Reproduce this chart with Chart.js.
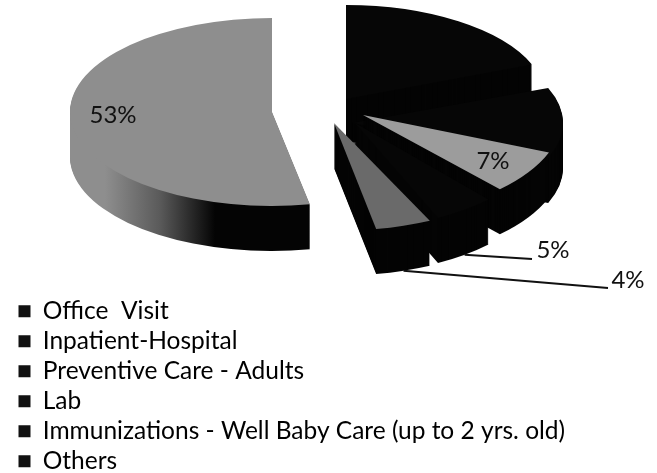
<!DOCTYPE html>
<html>
<head>
<meta charset="utf-8">
<title>Pie</title>
<script src="https://cdn.jsdelivr.net/npm/chart.js@4"></script>
<style>
  html, body { margin: 0; background: #fff; }
  canvas { display: block; }
</style>
</head>
<body>
<canvas id="pie" width="657" height="473"></canvas>
<script>
const categories = ['Office  Visit', 'Inpatient-Hospital', 'Preventive Care - Adults', 'Lab', 'Immunizations - Well Baby Care (up to 2 yrs. old)', 'Others'];
const shares = [53, 19, 12, 7, 5, 4];
const shownLabels = ['53%', null, null, '7%', '5%', '4%'];
const topColors = ['#8e8e8e', '#060606', '#060606', '#9c9c9c', '#060606', '#6a6a6a'];

// where each exploded slice sits on the page (the scan has a tilted perspective)
const slicePlace = [
  { x: 272, y: 112, rx: 202, ry: 94 },
  { x: 346, y: 99, rx: 200, ry: 94 },
  { x: 352, y: 123, rx: 211, ry: 95 },
  { x: 363, y: 115, rx: 200, ry: 102 },
  { x: 355, y: 123, rx: 195, ry: 105 },
  { x: 334, y: 123, rx: 225, ry: 108 }
];
const labelPlace = [
  { x: 113, y: 115 },
  null,
  null,
  { x: 493, y: 161 },
  { x: 553, y: 250, leadTo: 532, leadY: 259 },
  { x: 628, y: 280, leadTo: 608, leadY: 288 }
];
const DEPTH = 45;

function slicePath(ctx, arc, place, shift) {
  const r = arc.outerRadius;
  ctx.save();
  ctx.translate(place.x, place.y + shift);
  ctx.scale(place.rx / r, place.ry / r);
  ctx.beginPath();
  ctx.moveTo(0, 0);
  ctx.arc(0, 0, r, arc.startAngle, arc.endAngle);
  ctx.closePath();
  ctx.restore();
}

const tiltedPie = {
  id: 'tiltedPie',
  beforeDatasetDraw(chart) {
    const ctx = chart.ctx;
    const arcs = chart.getDatasetMeta(0).data;

    arcs.forEach((arc, i) => {
      const place = slicePlace[i];

      // side wall, stacked from the bottom up
      let wall = '#040404';
      if (i === 0) {
        wall = ctx.createLinearGradient(105, 0, 215, 0);
        wall.addColorStop(0, '#8e8e8e');
        wall.addColorStop(0.5, '#5a5a5a');
        wall.addColorStop(1, '#040404');
      }
      for (let d = DEPTH; d > 0; d--) {
        slicePath(ctx, arc, place, d);
        ctx.fillStyle = wall;
        ctx.fill();
      }

      // top face comes from the library's own arc
      ctx.save();
      ctx.translate(place.x, place.y);
      ctx.scale(place.rx / arc.outerRadius, place.ry / arc.outerRadius);
      ctx.translate(-arc.x, -arc.y);
      arc.draw(ctx);
      ctx.restore();
    });

    // percent labels and leader lines
    ctx.save();
    ctx.fillStyle = '#111';
    ctx.strokeStyle = '#111';
    ctx.lineWidth = 2;
    ctx.font = '24px Lato';
    ctx.textAlign = 'center';
    ctx.textBaseline = 'middle';
    arcs.forEach((arc, i) => {
      const at = labelPlace[i];
      if (!shownLabels[i]) return;
      ctx.fillText(shownLabels[i], at.x, at.y);
      if (at.leadTo) {
        const mid = (arc.startAngle + arc.endAngle) / 2;
        const place = slicePlace[i];
        ctx.beginPath();
        ctx.moveTo(place.x + Math.cos(mid) * place.rx, place.y + Math.sin(mid) * place.ry + DEPTH);
        ctx.lineTo(at.leadTo, at.leadY);
        ctx.stroke();
      }
    });
    ctx.restore();

    return false; // default draw would put a flat pie on top
  }
};

new Chart(document.getElementById('pie'), {
  type: 'pie',
  data: {
    labels: categories,
    datasets: [{ data: shares, backgroundColor: topColors, borderWidth: 0 }]
  },
  options: {
    responsive: false,
    animation: false,
    rotation: 169.2,
    layout: { padding: { left: 13, bottom: -6 } },
    plugins: {
      tooltip: { enabled: false },
      legend: {
        position: 'left',
        align: 'end',
        maxWidth: 600,
        labels: {
          boxWidth: 12,
          boxHeight: 12,
          padding: 5.5,
          color: '#111',
          font: { family: 'Lato', size: 24.5 },
          generateLabels() {
            return categories.map((text, i) => ({ text, fillStyle: '#111', strokeStyle: '#111', lineWidth: 0, index: i }));
          }
        }
      }
    }
  },
  plugins: [tiltedPie]
});
</script>
</body>
</html>
